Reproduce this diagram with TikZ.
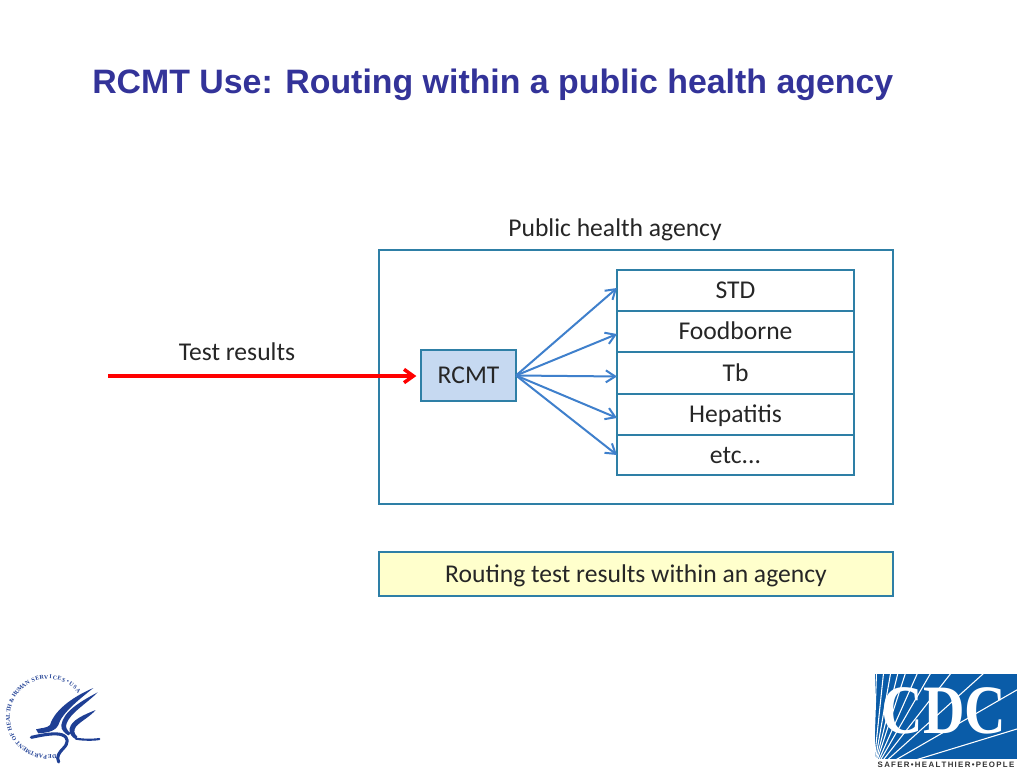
\documentclass[tikz,border=0pt]{standalone}
\usepackage{fontspec}
\setmainfont{Carlito}
\newfontfamily\titlefont{Liberation Sans}
\newfontfamily\logoserif{Liberation Serif}
\usetikzlibrary{arrows.meta}
\definecolor{titleblue}{HTML}{333399}
\definecolor{boxline}{HTML}{2E7FA6}
\definecolor{arrowblue}{HTML}{3F80CC}
\definecolor{rcmtfill}{HTML}{C6D9F1}
\definecolor{noteyellow}{HTML}{FFFFCC}
\definecolor{cdcblue}{HTML}{0A5CA8}
\definecolor{hhsblue}{HTML}{1F3F94}
\definecolor{textgrey}{HTML}{262626}
\tikzset{
  x=0.75pt,y=-0.75pt,
  frame/.style={draw=boxline,line width=0.85pt,inner sep=0pt,outer sep=0pt},
  dtext/.style={text=textgrey,font=\fontsize{19.2}{22}\selectfont,text height=14pt,text depth=1.5pt},
  cell/.style={frame,dtext,minimum width=177.75pt},
  lbl/.style={dtext,inner sep=0pt},
  routed/.style={draw=arrowblue,line width=1.5pt,-{Straight Barb[length=7pt,width=9pt]}},
  band/.style={draw=hhsblue,line cap=round,line join=round,fill=none},
  wing/.style={fill=hhsblue,draw=none},
  ray/.style={draw=white,line width=0.8pt},
  seal/.style={text=hhsblue,inner sep=0pt,font=\logoserif\bfseries\fontsize{4.4}{5}\selectfont},
}
\begin{document}
\begin{tikzpicture}
\useasboundingbox (0,0) rectangle (1024,768);
\fill[white] (0,0) rectangle (1024,768);

\node[anchor=west,inner sep=0pt,text=titleblue] (title) at (92,85) {\titlefont\bfseries\fontsize{25.4}{28}\selectfont RCMT Use: Routing within a public health agency};

\node[lbl] (agencylabel) at (615,228) {Public health agency};
\node[frame,minimum width=385.5pt,minimum height=190.5pt] (agency) at (636,377) {};

\node[cell,minimum height=30.75pt] (std) at (735.5,290.5) {STD};
\node[cell,minimum height=30.75pt] (food) at (735.5,331.5) {Foodborne};
\node[cell,minimum height=31.5pt] (tb) at (735.5,373) {Tb};
\node[cell,minimum height=30.75pt] (hep) at (735.5,414.5) {Hepatitis};
\node[cell,minimum height=30pt] (etc) at (735.5,455) {etc...};

\node[frame,dtext,fill=rcmtfill,minimum width=71.25pt,minimum height=38.25pt] (rcmt) at (468.5,375.5) {RCMT};

\node[lbl] (testlabel) at (237,352) {Test results};
\coordinate (teststart) at (108,376);
\draw[draw=red,line width=2.6pt,shorten >=3.5pt,-{Straight Barb[length=7pt,width=10pt]}] (teststart) -- (rcmt.west |- teststart);

\draw[routed] (rcmt.east) -- ([yshift=1.9pt]std.west);
\draw[routed] (rcmt.east) -- ([yshift=-1.9pt]food.west);
\draw[routed] (rcmt.east) -- ([yshift=-2.6pt]tb.west);
\draw[routed] (rcmt.east) -- ([yshift=-2.6pt]hep.west);
\draw[routed] (rcmt.east) -- (etc.west);

\node[frame,dtext,fill=noteyellow,minimum width=385.5pt,minimum height=33pt] (note) at (636,574) {Routing test results within an agency};

% CDC logo
\begin{scope}
\clip (875,674) rectangle (1017,759);
\fill[cdcblue] (875,674) rectangle (1017,759);
\foreach \a in {17,30,42,52,60,66,72,76,80,84,88}
  \draw[ray] (873,773) -- ++({-\a}:260);
\end{scope}
\node[text=white,inner sep=0pt,xscale=0.83] (cdc) at (944,711) {\logoserif\bfseries\fontsize{52}{56}\selectfont CDC};
\node[text=black!80,inner sep=0pt] (cdctag) at (946,765) {\titlefont\bfseries\fontsize{5.9}{6}\selectfont S\,A\,F\,E\,R\,•\,H\,E\,A\,L\,T\,H\,I\,E\,R\,•\,P\,E\,O\,P\,L\,E};

% HHS logo
\foreach \ch/\g [count=\i] in {D/0,E/0,P/0,A/0,R/0,T/0,M/0,E/0,N/0,T/0,O/1,F/1,H/2,E/2,A/2,L/2,T/2,H/2,\&/3,H/4,U/4,M/4,A/4,N/4,S/5,E/5,R/5,V/5,I/5,C/5,E/5,S/5,•/5,U/5,S/5,A/5}{
  \pgfmathsetmacro\ang{-81-6.44*(\i-1)-2.5*\g}
  \node[seal,rotate=\ang-90] (seal\i) at ([shift={(\ang:30pt)}]48,717) {\ch};
}
\begin{scope}[shift={(0,660)},x=0.25pt,y=-0.25pt]
\fill[wing] (280,84) .. controls (230,105) and (165,145) .. (150,195) .. controls (140,205) and (125,203) .. (108,208) -- (115,220) .. controls (140,218) and (165,215) .. (175,195) .. controls (185,160) and (235,120) .. (280,84) -- cycle;
\fill[wing] (293,97) .. controls (240,125) and (190,155) .. (184,195) .. controls (182,210) and (195,220) .. (205,226) -- (213,220) .. controls (200,212) and (195,200) .. (200,190) .. controls (210,160) and (260,130) .. (293,97) -- cycle;
\fill[wing] (287,150) .. controls (250,165) and (215,180) .. (209,205) .. controls (207,220) and (215,232) .. (228,238) -- (232,230) .. controls (222,222) and (220,210) .. (228,200) .. controls (240,185) and (270,170) .. (287,150) -- cycle;
\draw[band,line width=2.3pt] (94,232) .. controls (130,224) and (165,218) .. (185,224) .. controls (208,232) and (205,250) .. (190,265) .. controls (178,277) and (168,290) .. (176,306);
\draw[band,line width=1.6pt] (228,236) .. controls (250,240) and (280,240) .. (298,237);
\end{scope}
\end{tikzpicture}
\end{document}
